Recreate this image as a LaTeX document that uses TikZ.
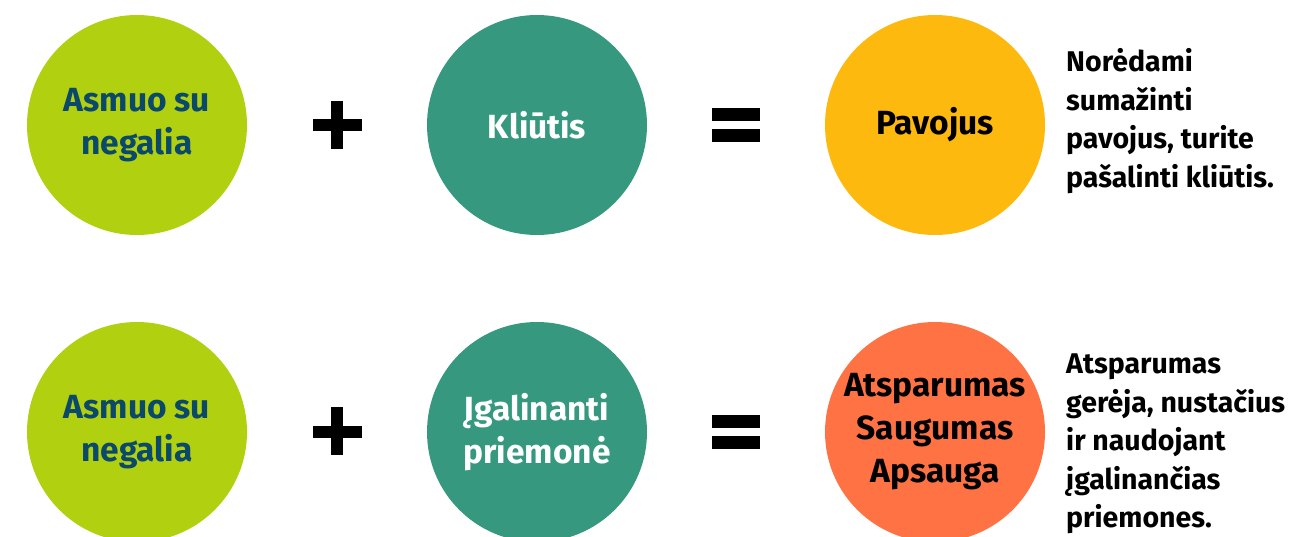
\documentclass[tikz,border=0pt]{standalone}
\usepackage{fontspec}
\setmainfont{Fira Sans}
\usepackage{tikz}
\usetikzlibrary{positioning}
\definecolor{CL}{RGB}{176, 208, 16}
\definecolor{CT}{RGB}{54, 153, 127}
\definecolor{CY}{RGB}{253, 185, 13}
\definecolor{CO}{RGB}{255, 114, 68}
\definecolor{CB}{RGB}{10, 72, 108}

\begin{document}
\begin{tikzpicture}[x=1pt, y=-1pt,
        disc/.style={circle, minimum size=220pt, inner sep=0pt, align=center,
            font=\fontsize{33.5}{43}\selectfont\bfseries},
        note/.style={anchor=west, align=left, inner sep=0pt,
            font=\fontsize{28.5}{38.5}\selectfont\bfseries}]
        \useasboundingbox (0,0) rectangle (1316,536);
        % first row
        \node[disc, fill=CL, text=CB]    (asmuoA)  at (137,125) {Asmuo su\\negalia};
        \node[disc, fill=CT, text=white] (kliutis) at (537,125) {Kliūtis};
        \node[disc, fill=CY, text=black] (pavojus) at (935,125) {Pavojus};
        \node[note] (noteA) at (1066,121) {Norėdami\\sumažinti\\pavojus, turite\\pašalinti kliūtis.};
        \fill (313,119) rectangle (362,131);
        \fill (331,101) rectangle (343,149);
        \fill (712,108) rectangle (760,121);
        \fill (712,129) rectangle (760,142);
        % second row
        \node[disc, fill=CL, text=CB]    (asmuoB)   at (137,432) {Asmuo su\\negalia};
        \node[disc, fill=CT, text=white] (priemone) at (537,432) {Įgalinanti\\priemonė};
        \node[disc, fill=CO, text=black] (atspar)   at (935,432) {Atsparumas\\Saugumas\\Apsauga};
        \node[note] (noteB) at (1066,444) {Atsparumas\\gerėja, nustačius\\ir naudojant\\įgalinančias\\priemones.};
        \fill (313,426) rectangle (362,438);
        \fill (331,407) rectangle (343,455);
        \fill (712,415) rectangle (760,428);
        \fill (712,436) rectangle (760,449);
    \end{tikzpicture}
\end{document}
